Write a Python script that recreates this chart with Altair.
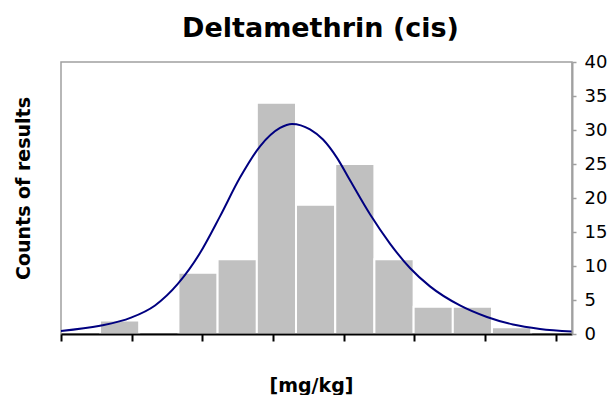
import altair as alt
import pandas as pd

# Histogram bins (x in axis-tick units; ticks at 0..7, labels hidden)
bin_start = [0.552, 1.106, 1.661, 2.215, 2.770, 3.324, 3.879, 4.433, 4.988, 5.542, 6.096]
bin_end = [1.106, 1.661, 2.215, 2.770, 3.324, 3.879, 4.433, 4.988, 5.542, 6.096, 6.651]
counts = [2, 0, 9, 11, 34, 19, 25, 11, 4, 4, 1]

# Fitted curve
curve_x = [0.0, 0.552, 0.990, 1.330, 1.655, 1.966, 2.249, 2.532, 2.815, 3.098, 3.267,
           3.522, 3.706, 3.904, 4.088, 4.371, 4.653, 4.936, 5.219, 5.643, 6.025,
           6.393, 6.775, 7.228]
curve_y = [0.45, 1.2, 2.4, 4.2, 7.4, 11.9, 17.3, 23.0, 27.6, 30.3, 30.9,
           30.1, 28.6, 25.9, 22.6, 17.6, 13.3, 9.7, 7.0, 4.2, 2.5,
           1.4, 0.75, 0.35]

x_ticks = [0, 1, 2, 3, 4, 5, 6, 7]
y_ticks = [0, 5, 10, 15, 20, 25, 30, 35, 40]

bars_df = pd.DataFrame({"x0": bin_start, "x1": bin_end, "n": counts})
curve_df = pd.DataFrame({"x": curve_x, "y": curve_y})

FONT = "DejaVu Sans"
xscale = alt.Scale(domain=[0, 7.228], nice=False, zero=False)
yscale = alt.Scale(domain=[0, 40], nice=False)

xaxis = alt.Axis(
    values=x_ticks, labels=False, grid=False, zindex=1,
    domainColor="black", domainWidth=2, tickColor="black", tickWidth=2, tickSize=7,
    title="[mg/kg]", titleFont=FONT, titleFontSize=19, titleFontWeight="bold",
    titleColor="black", titleX=250, titleY=57, titleBaseline="alphabetic",
)

bars = alt.Chart(bars_df).transform_filter("datum.n > 0").mark_rect(
    color="#c0c0c0", stroke="white", strokeWidth=2
).encode(
    x=alt.X("x0:Q", scale=xscale, axis=xaxis),
    x2="x1:Q",
    y=alt.Y("n:Q", scale=yscale, axis=alt.Axis(
        orient="left", labels=False, ticks=False, domain=False, grid=False,
        title="Counts of results", titleFont=FONT, titleFontSize=19,
        titleFontWeight="bold", titleColor="black", titlePadding=28, titleY=126,
    )),
    y2=alt.datum(0),
)

line = alt.Chart(curve_df).mark_line(
    color="#000080", strokeWidth=2, interpolate="monotone"
).encode(
    x=alt.X("x:Q", scale=xscale, axis=xaxis),
    y=alt.Y("y:Q", scale=yscale, axis=alt.Axis(
        orient="right", values=y_ticks, grid=False, title=None, zindex=1,
        domainColor="#a0a0a0", domainWidth=2, tickColor="#a0a0a0", tickWidth=1.5,
        tickSize=4, labelFont=FONT, labelFontSize=18, labelColor="black",
        labelPadding=8, labelAlign="left", labelBaseline="middle",
    )),
)

chart = alt.layer(bars, line).resolve_scale(y="independent").properties(
    width=511, height=272,
    title=alt.TitleParams(
        "Deltamethrin (cis)", font=FONT, fontSize=27, fontWeight="bold",
        color="black", anchor="middle", frame="group", dx=4, offset=10,
    ),
    autosize=alt.AutoSizeParams(type="none"),
    padding={"left": 53, "top": 54, "right": 36, "bottom": 61},
).configure_view(
    stroke="#a0a0a0", strokeWidth=1.5
)

chart.save("out.html", embed_options={"renderer": "svg", "actions": False})
